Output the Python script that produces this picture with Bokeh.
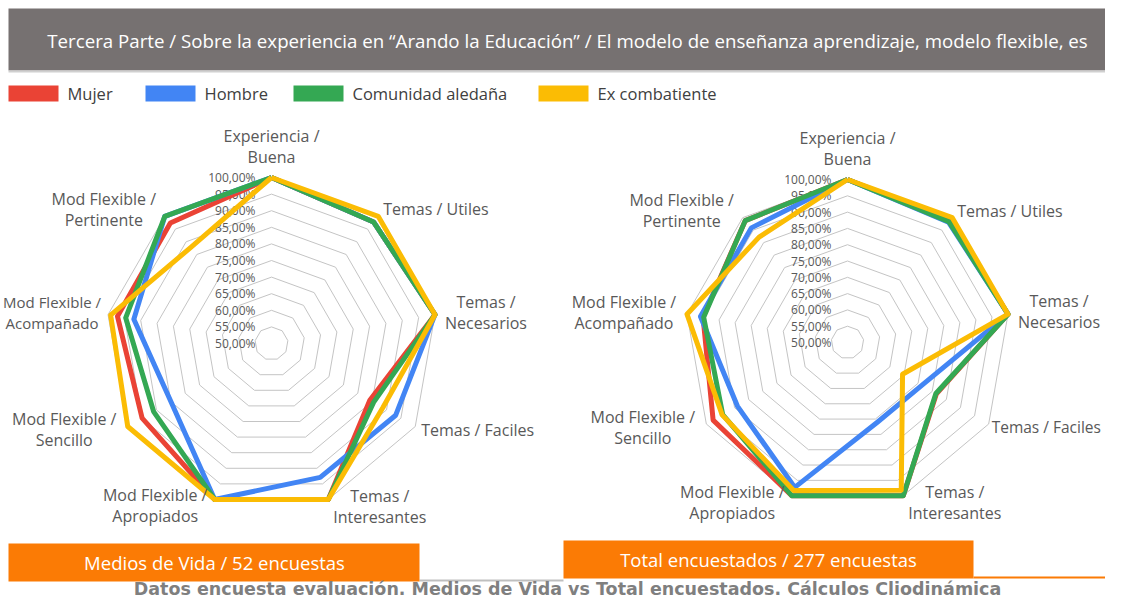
import math
from bokeh.plotting import figure
from bokeh.layouts import column, row
from bokeh.models import Range1d
from bokeh.core.properties import value
from bokeh.embed import file_html
from bokeh.resources import INLINE

# ---------------- data ----------------
title_text = "Tercera Parte / Sobre la experiencia en \u201cArando la Educación\u201d / El modelo de enseñanza aprendizaje, modelo flexible, es"
series_names = ["Mujer", "Hombre", "Comunidad aledaña", "Ex combatiente"]
series_colors = ["#EA4335", "#4285F4", "#34A853", "#FBBC04"]

categories = ["Experiencia / Buena", "Temas / Utiles", "Temas / Necesarios", "Temas / Faciles",
              "Temas / Interesantes", "Mod Flexible / Apropiados", "Mod Flexible / Sencillo",
              "Mod Flexible / Acompañado", "Mod Flexible / Pertinente"]

ticks = [50, 55, 60, 65, 70, 75, 80, 85, 90, 95, 100]

# Medios de Vida (52 encuestas)
mv_mujer = [100, 97.8, 100, 84.2, 100, 100, 95.0, 97.1, 97.4]
mv_hombre = [100, 97.8, 100, 93.2, 92.9, 100, 85.0, 92.1, 100]
mv_comunidad = [100, 97.8, 100, 85.5, 100, 100, 91.0, 94.6, 100]
mv_excomb = [100, 100, 100, 88.7, 100, 100, 100, 99.2, 87.8]

# Total encuestados (277 encuestas)
tot_mujer = [100, 99.0, 100, 81.5, 100, 100, 97.6, 95.0, 98.8]
tot_hombre = [100, 98.2, 100, 76.3, 76.2, 97.3, 89.0, 95.8, 95.9]
tot_comunidad = [100, 98.4, 100, 81.3, 100, 100, 94.2, 94.8, 98.8]
tot_excomb = [100, 100, 100, 69.5, 98.2, 98.3, 94.4, 100, 92.2]

panel_titles = ["Medios de Vida / 52 encuestas", "Total encuestados / 277 encuestas"]
footer_text = "Datos encuesta evaluación. Medios de Vida vs Total encuestados. Cálculos Cliodinámica"

# ---------------- styles ----------------
FONT = value("Open Sans")
LABEL_COLOR = "#595959"
# label placement relative to the 100% vertex: (dx px, dy px (down), align, wrap)
label_style = [
    (0, -31, "center", True),
    (5, -7, "left", False),
    (51, -2.5, "center", True),
    (6, 3, "left", False),
    (51.5, 7, "center", True),
    (-59.5, 6.5, "center", True),
    (-63.5, 3, "center", True),
    (-63, -2, "center", True),
    (-61, -7, "center", True),
]


def base_fig(w, h, xr, yr):
    p = figure(width=w, height=h, x_range=Range1d(*xr), y_range=Range1d(*yr),
               output_backend="svg", toolbar_location=None,
               x_axis_type=None, y_axis_type=None, min_border=0,
               outline_line_color=None, background_fill_color="white",
               border_fill_color="white")
    p.grid.visible = False
    return p


def radar(width, height, cx_px, cy_px, R_px, series, overrides=None):
    overrides = overrides or {}
    k = R_px / 50.0  # pixels per percentage point
    p = base_fig(width, height,
                 (-cx_px / k, (width - cx_px) / k),
                 (-(height - cy_px) / k, cy_px / k))
    n = len(categories)
    angles = [math.pi / 2 - 2 * math.pi * i / n for i in range(n)]

    # grid rings
    for t in ticks[1:]:
        xs = [(t - 50) * math.cos(a) for a in angles]
        ys = [(t - 50) * math.sin(a) for a in angles]
        p.line(xs + xs[:1], ys + ys[:1], line_color="#C4C4C4", line_width=1)

    # tick labels
    p.text(x=[-16 / k] * len(ticks), y=[t - 50 for t in ticks],
           text=[f"{t:.2f}".replace(".", ",") + "%" for t in ticks],
           text_align="right", text_baseline="middle", text_font=FONT,
           text_font_size=value("12px"), text_color=LABEL_COLOR)

    # series
    for vals, color in zip(series, series_colors):
        xs = [(v - 50) * math.cos(a) for v, a in zip(vals, angles)]
        ys = [(v - 50) * math.sin(a) for v, a in zip(vals, angles)]
        p.line(xs + xs[:1], ys + ys[:1], line_color=color, line_width=5,
               line_join="round")

    # category labels
    for i, (cat, a, st) in enumerate(zip(categories, angles, label_style)):
        dx, dy, align, wrap = st
        size = "16px"
        if i in overrides:
            dx, size = overrides[i]
        vx = 50 * math.cos(a) + dx / k
        vy = 50 * math.sin(a) - dy / k
        if wrap:
            head, tail = cat.split(" / ")
            lines = [head + " /", tail]
            ys = [vy + 10.5 / k, vy - 10.5 / k]
        else:
            lines = [cat]
            ys = [vy]
        p.text(x=[vx] * len(lines), y=ys, text=lines, text_align=align,
               text_baseline="middle", text_font=FONT,
               text_font_size=value(size), text_color=LABEL_COLOR)
    return p


# ---------------- header ----------------
W = 1105
header = base_fig(W, 110, (0, W), (110, 0))
header.quad(left=[8], right=[1125], top=[8], bottom=[70], fill_color="#767171", line_color=None)
header.quad(left=[8], right=[1125], top=[70], bottom=[72], fill_color="#D0D0D0", line_color=None)
header.text(x=[567], y=[40], text=[title_text], text_align="center", text_baseline="middle",
            text_font=FONT, text_font_size=value("18.7px"), text_color="white")

legend_x = [8, 145, 293, 538]
for name, color, lx in zip(series_names, series_colors, legend_x):
    header.quad(left=[lx], right=[lx + 50], top=[85], bottom=[101], fill_color=color, line_color=None)
    header.text(x=[lx + 59], y=[93], text=[name], text_align="left", text_baseline="middle",
                text_font=FONT, text_font_size=value("16.5px"), text_color="#404040")

# ---------------- radars ----------------
LW = 556
left = radar(LW, 420, 271, 233, 166, [mv_mujer, mv_hombre, mv_comunidad, mv_excomb],
             overrides={7: (-56, "15px")})
right = radar(W - LW, 420, 847 - LW, 232, 163, [tot_mujer, tot_hombre, tot_comunidad, tot_excomb],
              overrides={3: (3, "15.5px")})

# ---------------- footer ----------------
footer = base_fig(W, 67, (0, W), (597, 530))
footer.quad(left=[419], right=[563], top=[579], bottom=[581], fill_color="#BFBFBF", line_color=None)
footer.quad(left=[973], right=[1125], top=[576], bottom=[578], fill_color="#FB7B05", line_color=None)
footer.quad(left=[8], right=[419], top=[543], bottom=[581], fill_color="#FB7B05", line_color=None)
footer.quad(left=[563], right=[973], top=[540], bottom=[578], fill_color="#FB7B05", line_color=None)
footer.text(x=[214, 768], y=[562, 559], text=panel_titles, text_align="center", text_baseline="middle",
            text_font=FONT, text_font_size=value("18.5px"), text_color="white")
footer.text(x=[567], y=[588], text=[footer_text], text_align="center", text_baseline="middle",
            text_font=value("DejaVu Sans"), text_font_size=value("17.5px"), text_font_style="bold",
            text_color="#7F7F7F")

layout = column(header, row(left, right), footer)
open("out.html", "w").write(file_html(layout, INLINE))
